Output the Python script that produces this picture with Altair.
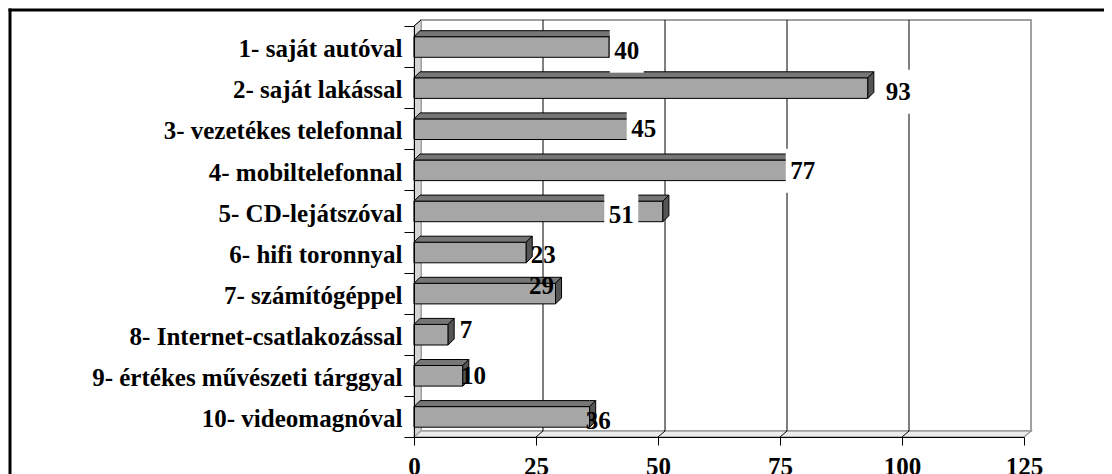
import json
import altair as alt
import pandas as pd

# ---------------- data ----------------
categories = [
    "1- saját autóval",
    "2- saját lakással",
    "3- vezetékes telefonnal",
    "4- mobiltelefonnal",
    "5- CD-lejátszóval",
    "6- hifi toronnyal",
    "7- számítógéppel",
    "8- Internet-csatlakozással",
    "9- értékes művészeti tárggyal",
    "10- videomagnóval",
]
values = [40, 93, 45, 77, 51, 23, 29, 7, 10, 36]
x_ticks = [0, 25, 50, 75, 100, 125]

# ---------------- styling (label placement in px, boxes) ----------------
label_dx = [17.6, 30.4, 10.1, 13.0, -41.6, 17.0, -14.0, 17.8, 10.7, 8.6]
label_dy = [12.5, 12.4, 8.6, 9.2, 12.4, 10.7, 0.9, 4.1, 8.7, 12.6]
label_box = [True, True, True, True, True, False, False, False, False, False]

W, H = 610, 411
XMAX = x_ticks[-1]
N = len(categories)
BAND = H / N
UX = XMAX / W          # data units per px (x)
UY = N / H             # data units per px (y)
BAR_TOP = 10.7 / BAND
BAR_BOT = 31.3 / BAND
BDX, BDY = 6 * UX, 6 * UY     # bar depth
WDX, WDY = 7 * UX, 6 * UY     # wall depth

FONT = "Liberation Serif"
FS = 25

xs = alt.Scale(domain=[0, XMAX], nice=False, zero=False)
ys = alt.Scale(domain=[0, N], reverse=True, nice=False, zero=False)

cat_js = json.dumps(categories, ensure_ascii=False)
x_axis = alt.Axis(
    values=x_ticks,
    grid=False,
    title=None,
    domainColor="black",
    domainWidth=1,
    tickColor="black",
    tickSize=8,
    labelFont=FONT,
    labelFontSize=FS,
    labelFontWeight="bold",
    labelColor="black",
    labelPadding=9.5,
    labelFlush=False,
    labelOverlap=False,
    labelBound=False,
    zindex=1,
)
y_axis = alt.Axis(
    values=list(range(N + 1)),
    labelExpr=f"datum.value < {N} ? {cat_js}[datum.value] : ''",
    grid=False,
    title=None,
    domainColor="black",
    domainWidth=1,
    tickColor="black",
    tickSize=10,
    labelFont=FONT,
    labelFontSize=FS,
    labelFontWeight="bold",
    labelColor="black",
    labelPadding=2,
    labelOffset=BAND / 2 + 10.2,
    labelBaseline="alphabetic",
    labelFlush=False,
    labelOverlap=False,
    labelBound=False,
    labelLimit=0,
    zindex=1,
)


def X(f):
    return alt.X(f, scale=xs, axis=x_axis)


def Y(f):
    return alt.Y(f, scale=ys, axis=y_axis, stack=None)


# ---------------- walls ----------------
back_df = pd.DataFrame([{"x": WDX, "x2": XMAX + WDX, "y": -WDY, "y2": N - WDY}])
back = alt.Chart(back_df).mark_rect(fill="white", stroke="#a0a0a0", strokeWidth=2).encode(
    x=X("x:Q"), x2="x2:Q", y=Y("y:Q"), y2="y2:Q"
)

left_df = pd.DataFrame([
    {"x": 0, "y": 0, "y2": N},
    {"x": WDX, "y": -WDY, "y2": N - WDY},
])
leftwall = alt.Chart(left_df).mark_area(
    orient="vertical", fill="#d4d4d4", stroke="#a0a0a0", strokeWidth=1
).encode(x=X("x:Q"), y=Y("y:Q"), y2="y2:Q")

floor_df = pd.DataFrame([
    {"x": 0, "y": N, "y2": N},
    {"x": WDX, "y": N - WDY, "y2": N},
    {"x": XMAX, "y": N - WDY, "y2": N},
    {"x": XMAX + WDX, "y": N - WDY, "y2": N - WDY},
])
floor = alt.Chart(floor_df).mark_area(
    orient="vertical", fill="#ececec", stroke="#a0a0a0", strokeWidth=1.5
).encode(x=X("x:Q"), y=Y("y:Q"), y2="y2:Q")

grid_rows = []
for v in x_ticks[1:-1]:
    grid_rows.append({"x": v + WDX, "y": -WDY, "x2": v + WDX, "y2": N - WDY})
    grid_rows.append({"x": v, "y": N, "x2": v + WDX, "y2": N - WDY})
grid_rows.append({"x": 0, "y": 0, "x2": WDX, "y2": -WDY})
grid = alt.Chart(pd.DataFrame(grid_rows)).mark_rule(color="black", strokeWidth=1).encode(
    x=X("x:Q"), y=Y("y:Q"), x2="x2:Q", y2="y2:Q"
)

# ---------------- bars ----------------
front_df = pd.DataFrame({
    "x": [0] * N,
    "x2": values,
    "y": [i + BAR_TOP for i in range(N)],
    "y2": [i + BAR_BOT for i in range(N)],
})

top_rows, side_rows = [], []
for i, v in enumerate(values):
    yt = i + BAR_TOP
    yb = i + BAR_BOT
    top_rows += [
        {"p": i, "x": 0, "y": yt, "y2": yt},
        {"p": i, "x": BDX, "y": yt - BDY, "y2": yt},
        {"p": i, "x": v, "y": yt - BDY, "y2": yt},
        {"p": i, "x": v + BDX, "y": yt - BDY, "y2": yt - BDY},
    ]
    side_rows += [
        {"p": i, "x": v, "y": yt, "y2": yb},
        {"p": i, "x": v + BDX, "y": yt - BDY, "y2": yb - BDY},
    ]

tops = alt.Chart(pd.DataFrame(top_rows)).mark_area(
    orient="vertical", fill="#767676", stroke="black", strokeWidth=1
).encode(x=X("x:Q"), y=Y("y:Q"), y2="y2:Q", detail="p:N")

sides = alt.Chart(pd.DataFrame(side_rows)).mark_area(
    orient="vertical", fill="#555555", stroke="black", strokeWidth=1
).encode(x=X("x:Q"), y=Y("y:Q"), y2="y2:Q", detail="p:N")

front = alt.Chart(front_df).mark_rect(fill="#a6a6a6", stroke="black", strokeWidth=1).encode(
    x=X("x:Q"), x2="x2:Q", y=Y("y:Q"), y2="y2:Q"
)

# ---------------- value labels ----------------
lab_rows = []
for i, v in enumerate(values):
    lx = v + label_dx[i] * UX
    ly = i + 0.5 + label_dy[i] * UY
    cy = ly - 8.4 * UY
    lab_rows.append({
        "x": lx, "y": ly, "txt": str(v), "box": label_box[i],
        "bx": lx - 17 * UX, "bx2": lx + 17 * UX,
        "by": cy - 22 * UY, "by2": cy + 22 * UY,
    })
lab_df = pd.DataFrame(lab_rows)

boxes = alt.Chart(lab_df[lab_df["box"]]).mark_rect(fill="white", strokeWidth=0).encode(
    x=X("bx:Q"), x2="bx2:Q", y=Y("by:Q"), y2="by2:Q"
)
texts = alt.Chart(lab_df).mark_text(
    font=FONT, fontSize=FS, fontWeight="bold", color="black", align="center", baseline="alphabetic"
).encode(x=X("x:Q"), y=Y("y:Q"), text="txt:N")

# ---------------- outer frame (left and top edges; the rest is outside the picture) ----------------
one = pd.DataFrame([{"a": 0}])
frame_left = alt.Chart(one).mark_rule(color="black", strokeWidth=3).encode(
    x=alt.value(-404), y=alt.value(-17.5), y2=alt.value(600)
)
frame_top = alt.Chart(one).mark_rule(color="black", strokeWidth=3).encode(
    x=alt.value(-405.5), x2=alt.value(800), y=alt.value(-16)
)

chart = alt.layer(
    back, leftwall, floor, grid, front, tops, sides, boxes, texts, frame_left, frame_top
).properties(
    width=W,
    height=H,
    autosize=alt.AutoSizeParams(type="none"),
    padding={"left": 406, "top": 18, "right": 80, "bottom": 37},
    background="white",
).configure_view(stroke=None)

chart.save("out.html", embed_options={"renderer": "svg", "actions": False})
